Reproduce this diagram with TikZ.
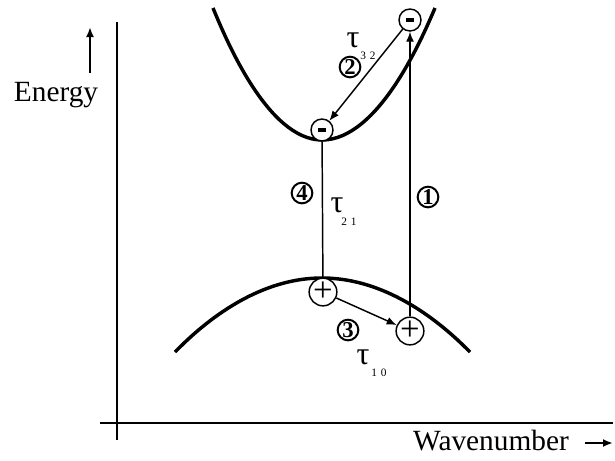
\documentclass[tikz,border=0pt]{standalone}
\usepackage{fontspec}
\setmainfont{Liberation Serif}
\usetikzlibrary{arrows.meta,calc,positioning}

\begin{document}
\begin{tikzpicture}[x=0.75pt,y=-0.75pt,font=\fontsize{22}{26}\selectfont,
  >={Latex[length=7.5pt,width=6pt]},
  band/.style={line width=2.6pt},
  axis/.style={line width=1.5pt},
  trans/.style={line width=1.1pt},
  carrier/.style={circle,draw,fill=white,line width=1.1pt,minimum size=16.5pt,inner sep=0pt,
    font=\fontsize{26}{26}\selectfont},
  num/.style={circle,draw,line width=1.5pt,minimum size=15.5pt,inner sep=0pt,
    font=\fontsize{17}{17}\selectfont\bfseries},
  tau/.style={inner sep=0pt,font=\fontsize{24}{24}\selectfont},
  sub/.style={inner sep=0pt,font=\fontsize{8.5}{9}\selectfont}]
  \useasboundingbox (0,0) rectangle (615,461);
  % axes
  \coordinate (ytop) at (117,22);
  \coordinate (ybot) at (117,440);
  \coordinate (xleft) at (100,423);
  \coordinate (xright) at (613,423);
  \draw[axis] (ytop) -- (ybot);
  \draw[axis] (xleft) -- (xright);
  \node (energy) at (56,95) {Energy};
  \coordinate (ea) at (90,73);
  \coordinate (eb) at (90,27);
  \draw[axis,->] (ea) -- (eb);
  \node (wave) at (491,441) {Wavenumber};
  \coordinate (wa) at (585,443);
  \coordinate (wb) at (613,443);
  \draw[axis,->] (wa) -- (wb);
  % bands
  \draw[band] (213,8) parabola bend (322,140) (435,8);
  \draw[band] (175,352) parabola bend (322,278) (470,352);
  % carriers
  \node[carrier] (e2) at (410,20) {\rule{6pt}{2.6pt}};
  \node[carrier] (e1) at (322,130) {\rule{6pt}{2.6pt}};
  \node[carrier] (h1) at (323,292) {+};
  \node[carrier] (h2) at (410,331) {+};
  % transitions
  \draw[trans,->] (h2) -- (e2);
  \draw[trans,->] (e2) -- (e1);
  \draw[trans] (e1) -- (h1);
  \draw[trans,->] (h1) -- (h2);
  % labels
  \node[num] (n1) at (428,197) {1};
  \node[num] (n2) at (350,67) {2};
  \node[num] (n3) at (348,330) {3};
  \node[num] (n4) at (302,193) {4};
  \node[tau] (t32) at (353,40) {τ};
  \node[sub] (s32) at (368,56) {3\,\,2};
  \node[tau] (t21) at (337,205) {τ};
  \node[sub] (s21) at (349,222) {2\,\,1};
  \node[tau] (t10) at (363,357) {τ};
  \node[sub] (s10) at (379,373) {1\,\,0};
\end{tikzpicture}
\end{document}
